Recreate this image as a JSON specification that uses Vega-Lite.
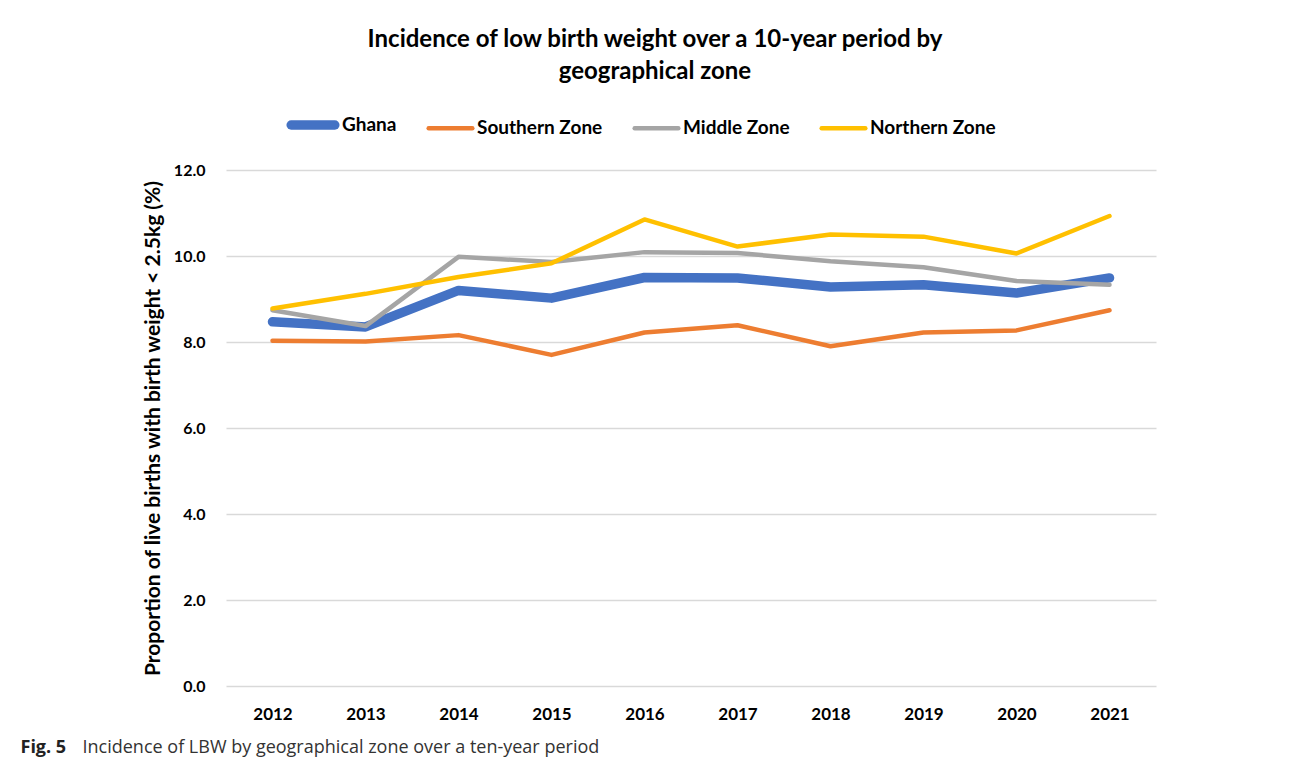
{
  "$schema": "https://vega.github.io/schema/vega-lite/v6.json",
  "background": "white",
  "padding": {"left": 20, "top": 28, "right": 10, "bottom": 5},
  "title": {
    "text": ["Incidence of low birth weight over a 10-year period by", "geographical zone"],
    "font": "Lato",
    "fontSize": 24,
    "fontWeight": "bold",
    "color": "#000000",
    "lineHeight": 32,
    "anchor": "middle",
    "frame": "group",
    "dx": -36,
    "offset": 14
  },
  "width": 930,
  "height": 516,
  "data": {
    "values": [
      {"year": "2012", "zone": "Ghana", "value": 8.47},
      {"year": "2013", "zone": "Ghana", "value": 8.35},
      {"year": "2014", "zone": "Ghana", "value": 9.2},
      {"year": "2015", "zone": "Ghana", "value": 9.02},
      {"year": "2016", "zone": "Ghana", "value": 9.5},
      {"year": "2017", "zone": "Ghana", "value": 9.49},
      {"year": "2018", "zone": "Ghana", "value": 9.28},
      {"year": "2019", "zone": "Ghana", "value": 9.33},
      {"year": "2020", "zone": "Ghana", "value": 9.14},
      {"year": "2021", "zone": "Ghana", "value": 9.49},
      {"year": "2012", "zone": "Southern Zone", "value": 8.03},
      {"year": "2013", "zone": "Southern Zone", "value": 8.01},
      {"year": "2014", "zone": "Southern Zone", "value": 8.16},
      {"year": "2015", "zone": "Southern Zone", "value": 7.7},
      {"year": "2016", "zone": "Southern Zone", "value": 8.22},
      {"year": "2017", "zone": "Southern Zone", "value": 8.39},
      {"year": "2018", "zone": "Southern Zone", "value": 7.9},
      {"year": "2019", "zone": "Southern Zone", "value": 8.22},
      {"year": "2020", "zone": "Southern Zone", "value": 8.27},
      {"year": "2021", "zone": "Southern Zone", "value": 8.74},
      {"year": "2012", "zone": "Middle Zone", "value": 8.74},
      {"year": "2013", "zone": "Middle Zone", "value": 8.37},
      {"year": "2014", "zone": "Middle Zone", "value": 9.98},
      {"year": "2015", "zone": "Middle Zone", "value": 9.86},
      {"year": "2016", "zone": "Middle Zone", "value": 10.09},
      {"year": "2017", "zone": "Middle Zone", "value": 10.07},
      {"year": "2018", "zone": "Middle Zone", "value": 9.88},
      {"year": "2019", "zone": "Middle Zone", "value": 9.74},
      {"year": "2020", "zone": "Middle Zone", "value": 9.42},
      {"year": "2021", "zone": "Middle Zone", "value": 9.33},
      {"year": "2012", "zone": "Northern Zone", "value": 8.78},
      {"year": "2013", "zone": "Northern Zone", "value": 9.12},
      {"year": "2014", "zone": "Northern Zone", "value": 9.51},
      {"year": "2015", "zone": "Northern Zone", "value": 9.83},
      {"year": "2016", "zone": "Northern Zone", "value": 10.85},
      {"year": "2017", "zone": "Northern Zone", "value": 10.22},
      {"year": "2018", "zone": "Northern Zone", "value": 10.5},
      {"year": "2019", "zone": "Northern Zone", "value": 10.45},
      {"year": "2020", "zone": "Northern Zone", "value": 10.06},
      {"year": "2021", "zone": "Northern Zone", "value": 10.93}
    ]
  },
  "encoding": {
    "y": {
      "field": "value",
      "type": "quantitative",
      "scale": {"domain": [0, 12], "nice": false},
      "axis": {
        "title": "Proportion of live births with birth weight < 2.5kg (%)",
        "values": [0, 2, 4, 6, 8, 10, 12],
        "format": ".1f",
        "titleFont": "Lato",
        "titleFontSize": 21,
        "titleFontWeight": "bold",
        "titleColor": "#000000",
        "titlePadding": 10,
        "labelPadding": 21,
        "ticks": false,
        "domain": false,
        "grid": true
      }
    },
    "color": {
      "field": "zone",
      "type": "nominal",
      "scale": {
        "domain": ["Ghana", "Southern Zone", "Middle Zone", "Northern Zone"],
        "range": ["#4472C4", "#ED7D31", "#A5A5A5", "#FFC000"]
      },
      "legend": {
        "title": null,
        "orient": "none",
        "legendX": 60,
        "legendY": -72,
        "encode": {
          "symbols": {
            "update": {
              "strokeWidth": {"signal": "datum.value === 'Ghana' ? 8 : 5"},
              "strokeCap": {"value": "round"}
            }
          }
        }
      }
    },
    "strokeWidth": {
      "field": "zone",
      "type": "nominal",
      "scale": {
        "type": "ordinal",
        "domain": ["Ghana", "Southern Zone", "Middle Zone", "Northern Zone"],
        "range": [9.5, 4.5, 4.5, 4.5]
      },
      "legend": null
    }
  },
  "layer": [
    {
      "transform": [{"filter": "datum.zone === 'Ghana' || datum.zone === 'Southern Zone'"}],
      "mark": {"type": "line", "strokeCap": "round", "strokeJoin": "round"},
      "encoding": {
        "x": {
          "field": "year",
          "type": "ordinal",
          "scale": {"type": "point", "padding": 0.5},
          "axis": {
            "orient": "bottom",
            "title": "Fig. 5",
            "titleFont": "Open Sans",
            "titleFontSize": 18,
            "titleFontWeight": "bold",
            "titleColor": "#222222",
            "titleAlign": "left",
            "titleAnchor": null,
            "titleBaseline": "alphabetic",
            "titleX": -206,
            "titleY": 66,
            "labelAngle": 0,
            "labelPadding": 20,
            "ticks": false,
            "domain": false,
            "grid": false
          }
        }
      }
    },
    {
      "transform": [{"filter": "datum.zone === 'Middle Zone' || datum.zone === 'Northern Zone'"}],
      "mark": {"type": "line", "strokeCap": "round", "strokeJoin": "round"},
      "encoding": {
        "x": {
          "field": "year",
          "type": "ordinal",
          "scale": {"type": "point", "padding": 0.5},
          "axis": {
            "orient": "bottom",
            "title": "Incidence of LBW by geographical zone over a ten-year period",
            "titleFont": "Open Sans",
            "titleFontSize": 18,
            "titleFontWeight": "normal",
            "titleColor": "#333333",
            "titleAlign": "left",
            "titleAnchor": null,
            "titleBaseline": "alphabetic",
            "titleX": -144,
            "titleY": 66,
            "labels": false,
            "ticks": false,
            "domain": false,
            "grid": false
          }
        }
      }
    }
  ],
  "resolve": {"axis": {"x": "independent"}},
  "config": {
    "view": {"stroke": null},
    "font": "Lato",
    "axis": {
      "labelFont": "Lato",
      "labelFontSize": 17,
      "labelFontWeight": "bold",
      "labelColor": "#000000",
      "gridColor": "#D9D9D9",
      "gridWidth": 1.5
    },
    "axisY": {"labelFontSize": 16},
    "legend": {
      "direction": "horizontal",
      "symbolType": "stroke",
      "symbolSize": 1900,
      "labelFont": "Lato",
      "labelFontSize": 19,
      "labelFontWeight": "bold",
      "labelColor": "#000000",
      "labelOffset": 2,
      "columnPadding": 22
    }
  }
}
